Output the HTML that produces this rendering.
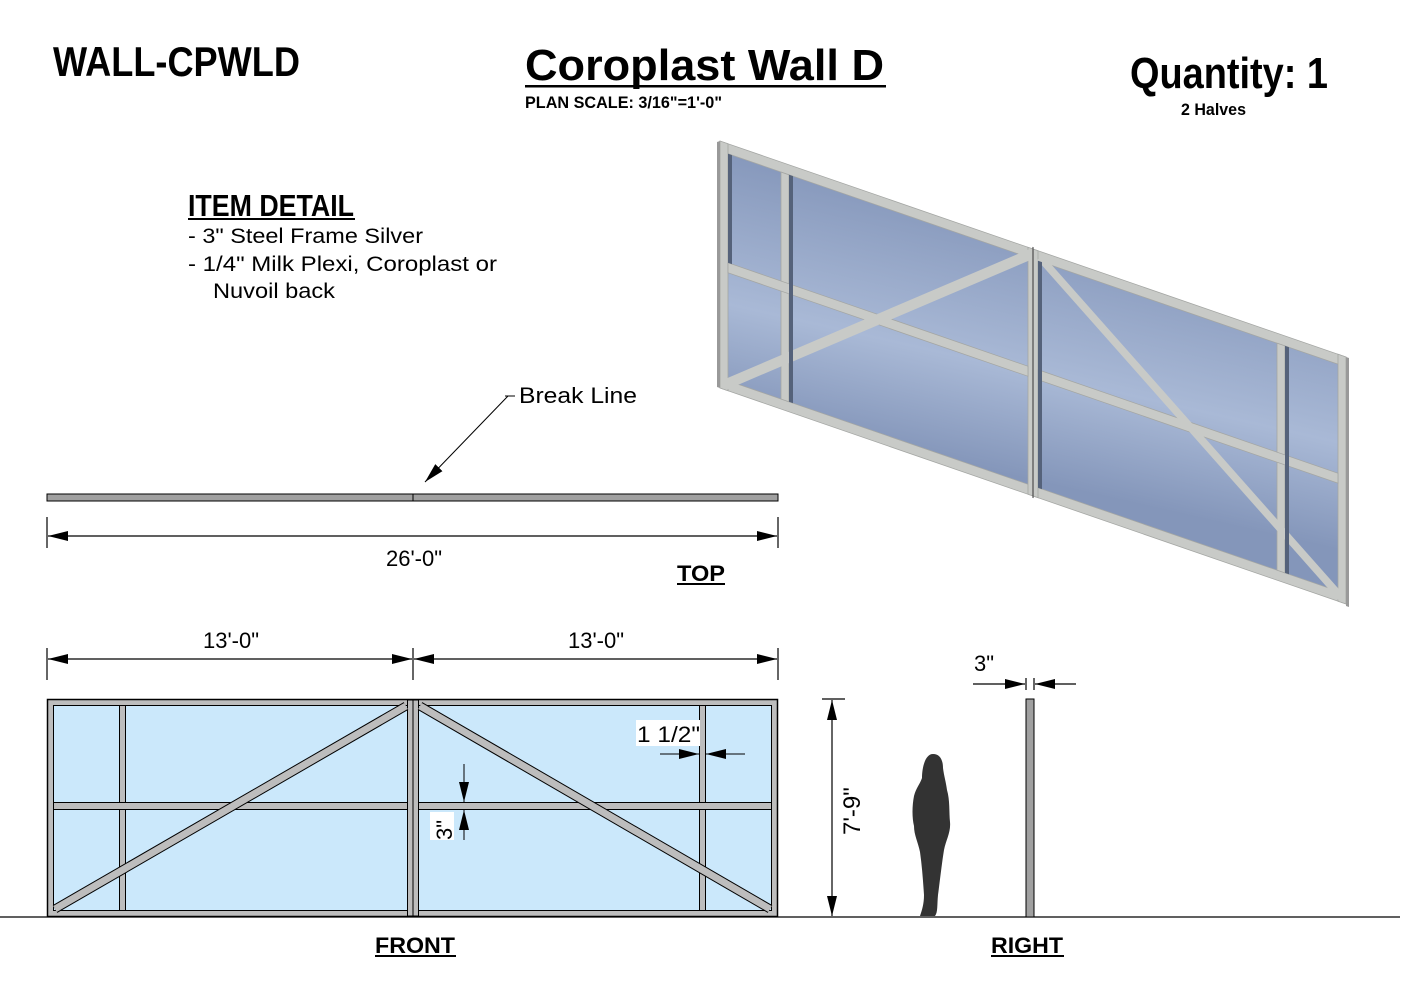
<!DOCTYPE html>
<html><head><meta charset="utf-8"><style>
html,body{margin:0;padding:0;background:#fff;}
svg{display:block;}
text{font-family:"Liberation Sans",sans-serif;}
.n{font-family:"Liberation Sans",sans-serif;font-weight:bold;}
</style></head><body>
<svg width="1403" height="993" viewBox="0 0 1403 993" xmlns="http://www.w3.org/2000/svg">
<defs>
<marker id="ar" viewBox="0 0 20 10" refX="20" refY="5" markerWidth="20" markerHeight="10" markerUnits="userSpaceOnUse" orient="auto-start-reverse"><path d="M0,0 L20,5 L0,10 z" fill="#000"/></marker>
<linearGradient id="pg" x1="0" y1="0" x2="0.3" y2="1">
<stop offset="0" stop-color="#8496ba"/><stop offset="0.6" stop-color="#a9b9d6"/><stop offset="1" stop-color="#8496ba"/></linearGradient>
</defs>

<text x="53" y="76" class="n" font-size="42" textLength="247" lengthAdjust="spacingAndGlyphs">WALL-CPWLD</text>
<text x="525" y="80" font-size="44" font-weight="bold" textLength="359" lengthAdjust="spacingAndGlyphs">Coroplast Wall D</text>
<rect x="525" y="85" width="361" height="2.5" fill="#000"/>
<text x="525" y="108" class="n" font-size="17" textLength="197" lengthAdjust="spacingAndGlyphs">PLAN SCALE: 3/16"=1'-0"</text>
<text x="1130" y="88" class="n" font-size="44" textLength="198" lengthAdjust="spacingAndGlyphs">Quantity: 1</text>
<text x="1181" y="115" class="n" font-size="17" textLength="65" lengthAdjust="spacingAndGlyphs">2 Halves</text>

<text x="188" y="216" class="n" font-size="31" textLength="166" lengthAdjust="spacingAndGlyphs">ITEM DETAIL</text>
<rect x="188" y="218" width="167" height="2" fill="#000"/>
<text x="188" y="243" font-size="21" textLength="235" lengthAdjust="spacingAndGlyphs">- 3" Steel Frame Silver</text>
<text x="188" y="271" font-size="21" textLength="309" lengthAdjust="spacingAndGlyphs">- 1/4" Milk Plexi, Coroplast or</text>
<text x="213" y="298" font-size="21" textLength="122" lengthAdjust="spacingAndGlyphs">Nuvoil back</text>

<g transform="matrix(1,0.345,0,1,720,141)">
<rect x="0" y="0" width="626" height="247" fill="url(#pg)"/>
<g fill="#c8cac7" stroke="#a4a6a3" stroke-width="0.8">
<rect x="0" y="0" width="626" height="10"/>
<rect x="0" y="237" width="626" height="10"/>
<rect x="0" y="0" width="8" height="247"/>
<rect x="618" y="0" width="8" height="247"/>
<rect x="308" y="0" width="10" height="247"/>
<rect x="61" y="10" width="8" height="227"/>
<rect x="557" y="10" width="8" height="227"/>
<rect x="8" y="119" width="300" height="10"/>
<rect x="318" y="119" width="300" height="10"/>
</g>
<g stroke="#c8cac7" stroke-width="9">
<line x1="5" y1="242" x2="312" y2="5"/>
<line x1="320" y1="6" x2="621" y2="242"/>
</g>
<rect x="8" y="10" width="4" height="109" fill="#55627a"/>
<rect x="69" y="10" width="4" height="227" fill="#55627a"/>
<rect x="318" y="10" width="4" height="227" fill="#55627a"/>
<rect x="565" y="10" width="4" height="227" fill="#55627a"/>
<line x1="313" y1="-2" x2="313" y2="249" stroke="#333" stroke-width="1"/>
</g>
<polygon points="717,142 720,141 720,388 717,387" fill="#999"/>
<polygon points="1346,357 1349,358 1349,607 1346,606" fill="#999"/>

<rect x="47" y="494" width="731" height="7" fill="#a0a0a0" stroke="#000" stroke-width="1"/>
<line x1="413" y1="494" x2="413" y2="501" stroke="#000"/>
<line x1="515" y1="396" x2="505" y2="396" stroke="#000"/>
<line x1="508" y1="396" x2="425" y2="482" stroke="#000" marker-end="url(#ar)"/>
<text x="519" y="403" font-size="22" textLength="118" lengthAdjust="spacingAndGlyphs">Break Line</text>
<g stroke="#000" stroke-width="1.2">
<line x1="47" y1="517" x2="47" y2="548"/><line x1="778" y1="517" x2="778" y2="548"/>
<line x1="48" y1="536" x2="777" y2="536" marker-start="url(#ar)" marker-end="url(#ar)"/>
</g>
<text x="414" y="566" font-size="22" text-anchor="middle">26'-0"</text>
<text x="701" y="581" class="n" font-size="22" text-anchor="middle" textLength="48" lengthAdjust="spacingAndGlyphs">TOP</text>
<rect x="677" y="583" width="48" height="2" fill="#000"/>

<g stroke="#000" stroke-width="1.2">
<line x1="47" y1="648" x2="47" y2="680"/><line x1="413" y1="648" x2="413" y2="680"/><line x1="778" y1="648" x2="778" y2="680"/>
<line x1="48" y1="659" x2="412" y2="659" marker-start="url(#ar)" marker-end="url(#ar)"/>
<line x1="414" y1="659" x2="777" y2="659" marker-start="url(#ar)" marker-end="url(#ar)"/>
</g>
<text x="231" y="648" font-size="22" text-anchor="middle">13'-0"</text>
<text x="596" y="648" font-size="22" text-anchor="middle">13'-0"</text>

<rect x="47.5" y="699.5" width="730" height="217" fill="#bdbdbd" stroke="#000" stroke-width="1.5"/>
<rect x="53.5" y="705.5" width="718" height="205" fill="#cbe8fb" stroke="#000"/>
<g fill="#bdbdbd" stroke="#000" stroke-width="1">
<rect x="119.5" y="705.5" width="6" height="205"/>
<rect x="699.5" y="705.5" width="6" height="205"/>
<rect x="53.5" y="802.5" width="718" height="7"/>
<rect x="407.5" y="700" width="11" height="216"/>
</g>
<g stroke="#000" stroke-width="9"><line x1="55" y1="909" x2="406" y2="706"/><line x1="420" y1="706" x2="770" y2="909"/></g>
<g stroke="#bdbdbd" stroke-width="7"><line x1="55" y1="909" x2="406" y2="706"/><line x1="420" y1="706" x2="770" y2="909"/></g>
<line x1="413" y1="700" x2="413" y2="916" stroke="#000"/>

<rect x="636" y="720" width="64" height="26" fill="#fff"/>
<text x="637" y="742" font-size="22" textLength="63" lengthAdjust="spacingAndGlyphs">1 1/2"</text>
<g stroke="#000" stroke-width="1">
<line x1="660" y1="754" x2="699" y2="754" marker-end="url(#ar)"/>
<line x1="745" y1="754" x2="706" y2="754" marker-end="url(#ar)"/>
<line x1="464" y1="764" x2="464" y2="802" marker-end="url(#ar)"/>
<line x1="464" y1="840" x2="464" y2="810" marker-end="url(#ar)"/>
</g>
<rect x="430" y="812" width="24" height="28" fill="#fff"/>
<text transform="translate(452,840) rotate(-90)" font-size="22">3"</text>

<line x1="0" y1="917" x2="1400" y2="917" stroke="#000" stroke-width="1.2"/>
<text x="415" y="953" class="n" font-size="22" text-anchor="middle" textLength="80" lengthAdjust="spacingAndGlyphs">FRONT</text>
<rect x="375" y="955" width="81" height="2" fill="#000"/>
<text x="1027" y="953" class="n" font-size="22" text-anchor="middle" textLength="72" lengthAdjust="spacingAndGlyphs">RIGHT</text>
<rect x="991" y="955" width="73" height="2" fill="#000"/>

<g stroke="#000" stroke-width="1.2">
<line x1="822" y1="699" x2="845" y2="699"/>
<line x1="832" y1="700" x2="832" y2="916" marker-start="url(#ar)" marker-end="url(#ar)"/>
</g>
<text transform="translate(860,835) rotate(-90)" font-size="24">7'-9"</text>

<path d="M933,754 C940,754 943,760 943,768 C944,776 946,782 947,790 C950,800 949,812 950,822 C951,832 946,840 944,850 C942,862 940,880 938,895 C937,905 938,912 935,916 L920,916 C922,910 924,904 924,895 C923,880 922,866 920,852 C918,842 914,835 914,826 C912,818 912,806 914,796 C916,788 920,784 922,778 C922,768 925,754 933,754 Z" fill="#333"/>

<rect x="1026" y="699" width="8" height="218" fill="#a0a0a0" stroke="#000" stroke-width="1"/>
<g stroke="#000" stroke-width="1.2">
<line x1="1026" y1="678" x2="1026" y2="690"/><line x1="1034" y1="678" x2="1034" y2="690"/>
<line x1="973" y1="684" x2="1025" y2="684" marker-end="url(#ar)"/>
<line x1="1076" y1="684" x2="1035" y2="684" marker-end="url(#ar)"/>
</g>
<text x="974" y="671" font-size="22">3"</text>
</svg>
</body></html>
